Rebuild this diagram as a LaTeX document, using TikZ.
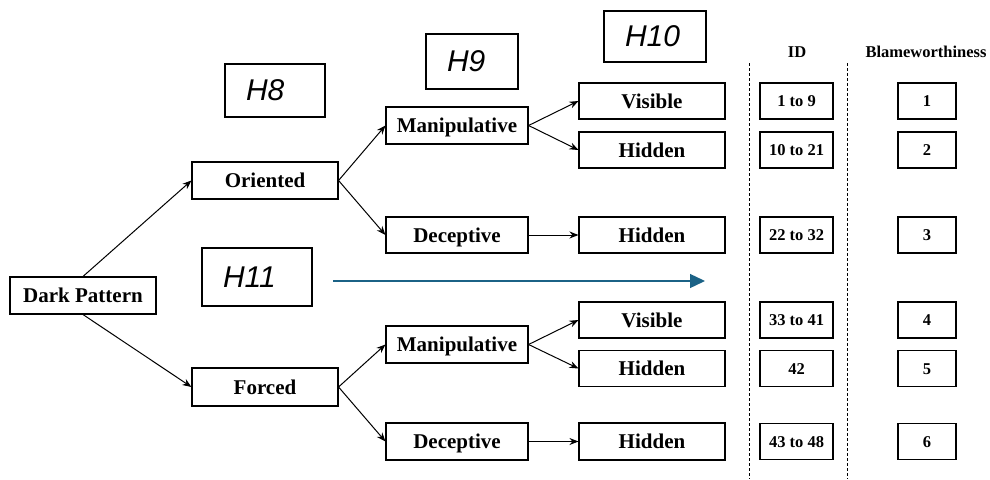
\documentclass[tikz,border=0pt]{standalone}
\usepackage{fontspec}
\setmainfont{Liberation Serif}
\newfontfamily\hfont{Liberation Sans}
\usetikzlibrary{arrows.meta}
\definecolor{hblue}{HTML}{1B6286}
\tikzset{
  box/.style={draw, line width=1.1pt, inner sep=0pt, text height=14pt, text depth=0pt, font=\fontsize{21}{23}\selectfont\bfseries},
  idbox/.style={draw, line width=1.1pt, inner sep=0pt, minimum width=73pt, minimum height=36pt, text height=11pt, text depth=0pt, font=\fontsize{16.5}{18}\selectfont\bfseries},
  blbox/.style={draw, line width=1.1pt, inner sep=0pt, minimum width=58pt, minimum height=36pt, text height=11pt, text depth=0pt, font=\fontsize{16.5}{18}\selectfont\bfseries},
  hbox/.style={draw, line width=1.1pt, inner xsep=21pt, inner ysep=0pt, align=left, font=\fontsize{30}{32}\selectfont\hfont\itshape},
  conn/.style={line width=1pt, -{Stealth[length=9pt,width=7pt]}},
  sep/.style={line width=1pt, dash pattern=on 3pt off 2pt},
  head/.style={font=\fontsize{16.5}{18}\selectfont\bfseries}
}
\begin{document}
\begin{tikzpicture}[x=1pt,y=-1pt]
\useasboundingbox (0,0) rectangle (990,479);
% main nodes
\node[box, minimum width=146pt, minimum height=37pt] (dp) at (83,295.5) {Dark Pattern};
\node[box, minimum width=146pt, minimum height=37pt] (or) at (265,180.5) {Oriented};
\node[box, minimum width=146pt, minimum height=38pt] (fo) at (265,387) {Forced};
\node[box, minimum width=142pt, minimum height=37pt] (m1) at (457,125.5) {Manipulative};
\node[box, minimum width=142pt, minimum height=36pt] (d1) at (457,235) {Deceptive};
\node[box, minimum width=142pt, minimum height=37pt] (m2) at (457,344.5) {Manipulative};
\node[box, minimum width=142pt, minimum height=37pt] (d2) at (457,441.5) {Deceptive};
\node[box, minimum width=146pt, minimum height=36pt] (v1) at (652,101) {Visible};
\node[box, minimum width=146pt, minimum height=36pt] (h1) at (652,150) {Hidden};
\node[box, minimum width=146pt, minimum height=36pt] (h2) at (652,235) {Hidden};
\node[box, minimum width=146pt, minimum height=36pt] (v2) at (652,320) {Visible};
\node[box, minimum width=146pt, minimum height=36pt] (h3) at (652,368.5) {Hidden};
\node[box, minimum width=146pt, minimum height=37pt] (h4) at (652,441.5) {Hidden};
% ID column
\node[idbox] (i1) at (796.5,101) {1 to 9};
\node[idbox] (i2) at (796.5,150) {10 to 21};
\node[idbox] (i3) at (796.5,235) {22 to 32};
\node[idbox] (i4) at (796.5,320) {33 to 41};
\node[idbox] (i5) at (796.5,368.5) {42};
\node[idbox] (i6) at (796.5,441.5) {43 to 48};
% Blameworthiness column
\node[blbox] (b1) at (927,101) {1};
\node[blbox] (b2) at (927,150) {2};
\node[blbox] (b3) at (927,235) {3};
\node[blbox] (b4) at (927,320) {4};
\node[blbox] (b5) at (927,368.5) {5};
\node[blbox] (b6) at (927,441.5) {6};
% headers
\node[head] (hid) at (797,52) {ID};
\node[head] (hbl) at (926,52) {Blameworthiness};
% separators
\coordinate (s1a) at (749,63); \coordinate (s1b) at (749,479);
\coordinate (s2a) at (847,63); \coordinate (s2b) at (847,479);
\draw[sep] (s1a) -- (s1b);
\draw[sep] (s2a) -- (s2b);
% hypothesis boxes
\node[hbox, text width=58pt, minimum height=53pt] (H8) at (275,90.5) {H8};
\node[hbox, text width=50pt, minimum height=55pt] (H9) at (472,61.5) {H9};
\node[hbox, text width=60pt, minimum height=51pt] (H10) at (655,36.5) {H10};
\node[hbox, text width=68pt, minimum height=58pt] (H11) at (257,277) {H11};
% H11 arrow
\coordinate (ha) at (333,281); \coordinate (hb) at (705,281);
\draw[hblue, line width=1.3pt, -{Triangle[length=15pt,width=14pt]}] (ha) -- (hb);
% connectors
\draw[conn] (dp.north) -- (or.west);
\draw[conn] (dp.south) -- (fo.west);
\draw[conn] (or.east) -- (m1.west);
\draw[conn] (or.east) -- (d1.west);
\draw[conn] (fo.east) -- (m2.west);
\draw[conn] (fo.east) -- (d2.west);
\draw[conn] (m1.east) -- (v1.west);
\draw[conn] (m1.east) -- (h1.west);
\draw[conn] (d1.east) -- (h2.west);
\draw[conn] (m2.east) -- (v2.west);
\draw[conn] (m2.east) -- (h3.west);
\draw[conn] (d2.east) -- (h4.west);
\end{tikzpicture}
\end{document}
